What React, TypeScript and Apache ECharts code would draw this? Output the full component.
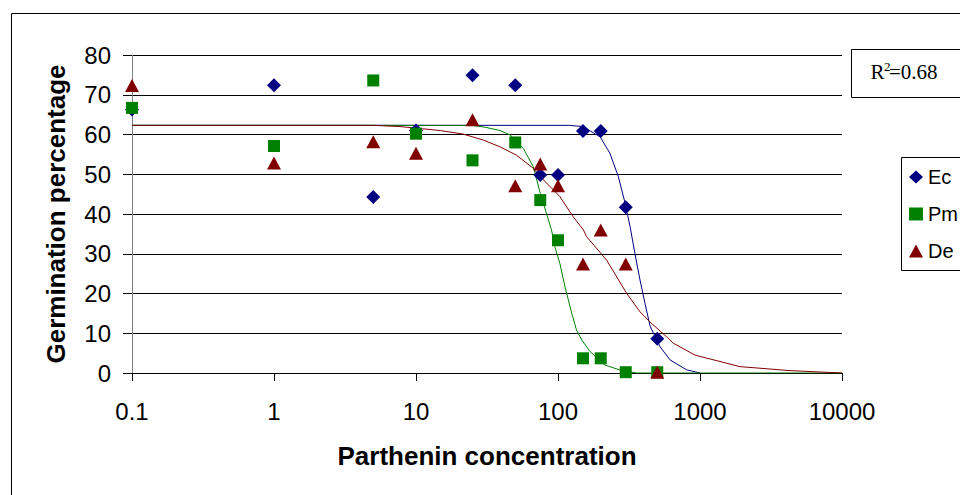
import React, { useEffect, useRef } from "react";
import * as echarts from "echarts";

// Observed data (x = parthenin concentration, y = germination %)
const concentrations = [0.1, 1, 5, 10, 25, 50, 75, 100, 150, 200, 300, 500];
const ecValues = [66.3, 72.4, 44.3, 61.0, 74.9, 72.4, 49.8, 49.8, 60.9, 60.9, 41.7, 8.6];
const pmValues = [66.7, 57.1, 73.6, 60.2, 53.5, 58.0, 43.5, 33.4, 3.7, 3.7, 0.2, 0.2];
const deValues = [72.3, 52.8, 58.2, 55.3, 63.7, 47.1, 52.6, 47.1, 27.4, 36.0, 27.4, 0.2];

// Fitted curves
const ecFitX = [0.1, 120, 150, 198, 232, 266, 297, 322, 348, 378, 410, 445, 523, 615, 805, 1000];
const ecFitY = [62.3, 62.3, 62.0, 59.4, 55.3, 49.4, 42.7, 36.8, 30.1, 23.4, 17.5, 11.8, 6.6, 3.3, 0.8, 0.0];

const pmFitX = [0.1, 25, 31, 39, 46, 57, 67, 75, 90, 95, 103, 112, 125, 135, 147, 168, 214, 273, 358, 10000];
const pmFitY = [62.3, 62.3, 61.8, 61.0, 59.9, 56.5, 51.9, 45.2, 36.0, 31.8, 27.6, 21.7, 15.0, 10.8, 8.3, 5.4, 2.0, 0.75, 0.0, 0.0];

const deFitX = [0.1, 5, 7.7, 14.8, 21.5, 29.8, 39, 51, 67, 75, 103, 128, 151, 159, 220, 305, 378, 445, 582, 649, 922, 1914, 4300, 10000];
const deFitY = [62.3, 62.3, 62.0, 61.0, 60.1, 58.6, 56.9, 54.8, 51.5, 49.4, 44.4, 39.3, 36.0, 34.3, 28.4, 20.0, 15.4, 12.8, 9.1, 7.5, 4.5, 1.6, 0.6, 0.0];

const yTicks = { min: 0, max: 80, interval: 10 };
const xRange = { min: 0.1, max: 10000 };
const seriesNames = ["Ec", "Pm", "De"];
const rSquaredLabel = ["R", "2", "=0.68"];

const zip = (xs: number[], ys: number[]) => xs.map((x, i) => [x, ys[i]]);

const SANS = "'Liberation Sans', Arial, sans-serif";
const SERIF = "'Liberation Serif', 'Times New Roman', serif";

export default function App() {
  const ref = useRef<HTMLDivElement>(null);

  useEffect(() => {
    if (!ref.current) return;
    const chart = echarts.init(ref.current, undefined, { renderer: "svg" });
    const colors = ["#000080", "#008000", "#800000"];

    chart.setOption({
      animation: false,
      backgroundColor: "#ffffff",
      grid: { left: 132, right: 118, top: 55, bottom: 122, containLabel: false },
      xAxis: {
        type: "log",
        logBase: 10,
        min: xRange.min,
        max: xRange.max,
        name: "Parthenin concentration",
        nameLocation: "middle",
        nameGap: 70,
        nameTextStyle: { fontSize: 26, fontWeight: "bold", color: "#000", fontFamily: SANS },
        axisLine: { show: true, onZero: false, lineStyle: { color: "#000", width: 1 } },
        axisTick: { show: true, length: 8, lineStyle: { color: "#000" } },
        axisLabel: {
          fontSize: 24,
          color: "#000",
          fontFamily: SANS,
          margin: 26,
          formatter: (v: number) => (v < 1 ? String(+v.toFixed(1)) : String(Math.round(v))),
        },
        splitLine: { show: false },
        minorTick: { show: false },
      },
      yAxis: {
        type: "value",
        min: yTicks.min,
        max: yTicks.max,
        interval: yTicks.interval,
        name: "Germination percentage",
        nameLocation: "middle",
        nameGap: 63,
        nameTextStyle: { fontSize: 26, fontWeight: "bold", color: "#000", fontFamily: SANS },
        axisLine: { show: true, lineStyle: { color: "#808080", width: 1 } },
        axisTick: { show: true, length: 9, lineStyle: { color: "#000" } },
        axisLabel: { fontSize: 24, color: "#000", fontFamily: SANS, margin: 21 },
        splitLine: { show: true, lineStyle: { color: "#000", width: 1 } },
      },
      legend: {
        data: seriesNames,
        orient: "vertical",
        left: 909,
        top: 167,
        padding: 0,
        itemWidth: 14,
        itemHeight: 13,
        itemGap: 17,
        textStyle: { fontSize: 20, color: "#000", fontFamily: SANS, padding: [0, 0, 0, 0] },
        z: 10,
      },
      graphic: [
        {
          type: "rect",
          silent: true,
          z: -10,
          shape: { x: 11.5, y: 13.5, width: 1200, height: 800 },
          style: { fill: "rgba(0,0,0,0)", stroke: "#000", lineWidth: 1 },
        },
        {
          type: "rect",
          silent: true,
          z: 1,
          shape: { x: 851.5, y: 49.5, width: 300, height: 48 },
          style: { fill: "#fff", stroke: "#000", lineWidth: 1 },
        },
        {
          type: "rect",
          silent: true,
          z: 1,
          shape: { x: 901.5, y: 157.5, width: 200, height: 113 },
          style: { fill: "#fff", stroke: "#000", lineWidth: 1 },
        },
        {
          type: "text",
          z: 2,
          style: {
            text: rSquaredLabel[0], x: 870.5, y: 72, fontSize: 21, fontFamily: SERIF, fill: "#000",
            align: "left", verticalAlign: "middle",
          },
        },
        {
          type: "text",
          z: 2,
          style: {
            text: rSquaredLabel[1], x: 884, y: 66.5, fontSize: 13, fontFamily: SERIF, fill: "#000",
            align: "left", verticalAlign: "middle",
          },
        },
        {
          type: "text",
          z: 2,
          style: {
            text: rSquaredLabel[2], x: 889, y: 72, fontSize: 21, fontFamily: SERIF, fill: "#000",
            align: "left", verticalAlign: "middle",
          },
        },
      ],
      series: [
        {
          name: "Ec fit", type: "line", data: zip(ecFitX, ecFitY), showSymbol: false, symbol: "none",
          lineStyle: { color: colors[0], width: 1 }, z: 2, silent: true,
        },
        {
          name: "Pm fit", type: "line", data: zip(pmFitX, pmFitY), showSymbol: false, symbol: "none",
          lineStyle: { color: colors[1], width: 1 }, z: 2, silent: true,
        },
        {
          name: "De fit", type: "line", data: zip(deFitX, deFitY), showSymbol: false, symbol: "none",
          lineStyle: { color: colors[2], width: 1 }, z: 2, silent: true,
        },
        {
          name: seriesNames[0], type: "scatter", data: zip(concentrations, ecValues),
          symbol: "diamond", symbolSize: 14, itemStyle: { color: colors[0], opacity: 1 }, z: 3,
        },
        {
          name: seriesNames[1], type: "scatter", data: zip(concentrations, pmValues),
          symbol: "rect", symbolSize: 12, itemStyle: { color: colors[1], opacity: 1 }, z: 3,
        },
        {
          name: seriesNames[2], type: "scatter", data: zip(concentrations, deValues),
          symbol: "triangle", symbolSize: [14, 13], itemStyle: { color: colors[2], opacity: 1 }, z: 3,
        },
      ],
    });

    return () => chart.dispose();
  }, []);

  return (
    <div
      ref={ref}
      style={{ position: "absolute", left: 0, top: 0, width: 960, height: 495, background: "#fff" }}
    />
  );
}
